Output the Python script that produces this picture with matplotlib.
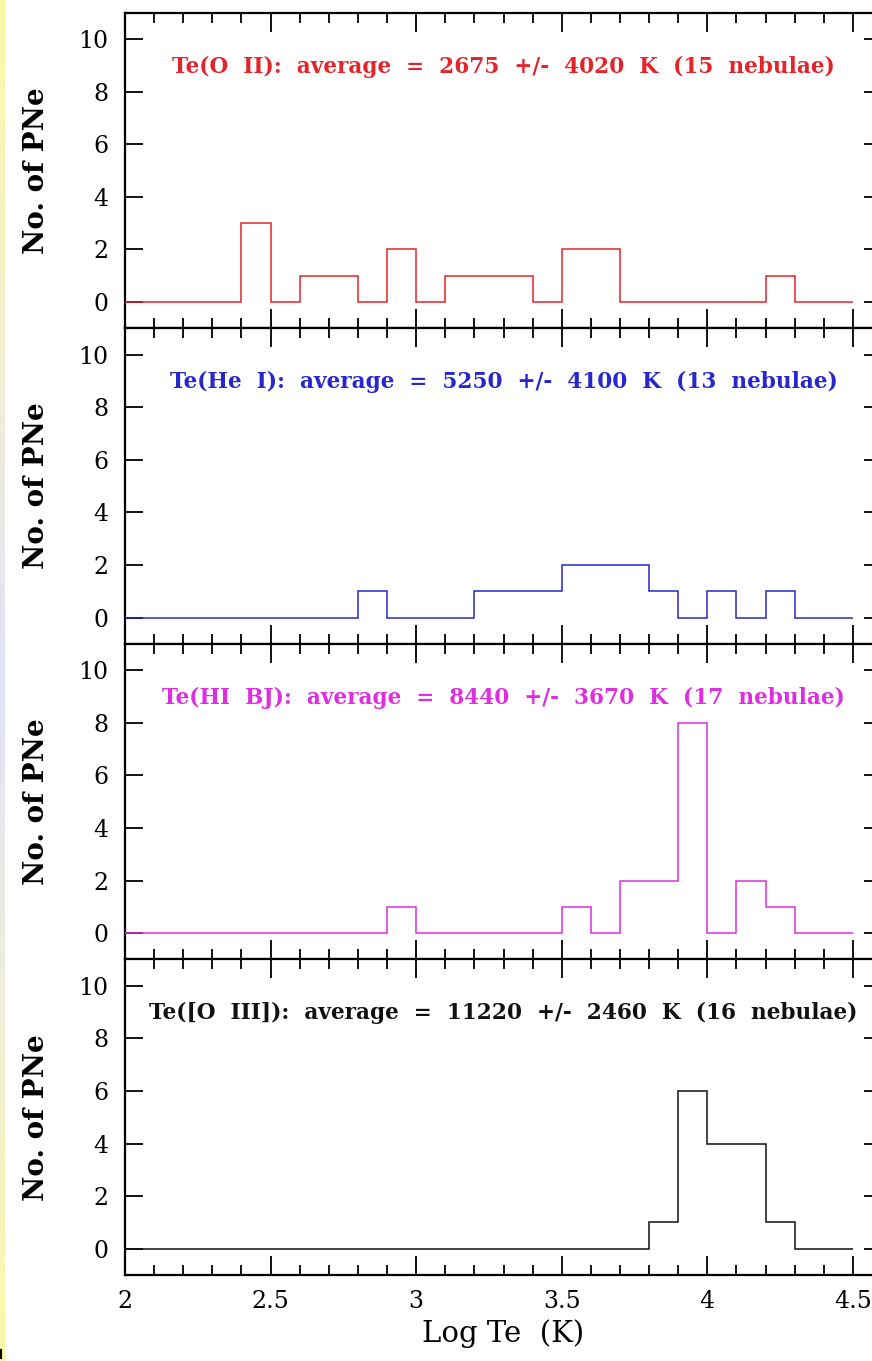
import numpy as np
import matplotlib
matplotlib.use("Agg")
import matplotlib.pyplot as plt
from matplotlib.colors import LinearSegmentedColormap
from matplotlib.lines import Line2D

# Bin edges in log Te (0.1 dex bins from 2.0 to 4.5)
bin_edges = [2.0, 2.1, 2.2, 2.3, 2.4, 2.5, 2.6, 2.7, 2.8, 2.9, 3.0,
             3.1, 3.2, 3.3, 3.4, 3.5, 3.6, 3.7, 3.8, 3.9, 4.0,
             4.1, 4.2, 4.3, 4.4, 4.5]

# Number of nebulae per bin for each temperature diagnostic
counts_oii = [0, 0, 0, 0, 3, 0, 1, 1, 0, 2, 0, 1, 1, 1, 0, 2, 2, 0, 0, 0, 0, 0, 1, 0, 0]
counts_hei = [0, 0, 0, 0, 0, 0, 0, 0, 1, 0, 0, 0, 1, 1, 1, 2, 2, 2, 1, 0, 1, 0, 1, 0, 0]
counts_hibj = [0, 0, 0, 0, 0, 0, 0, 0, 0, 1, 0, 0, 0, 0, 0, 1, 0, 2, 2, 8, 0, 2, 1, 0, 0]
counts_oiii = [0, 0, 0, 0, 0, 0, 0, 0, 0, 0, 0, 0, 0, 0, 0, 0, 0, 0, 1, 6, 4, 4, 1, 0, 0]

panel_labels = [
    "Te(O II): average = 2675 +/- 4020 K (15 nebulae)",
    "Te(He I): average = 5250 +/- 4100 K (13 nebulae)",
    "Te(HI BJ): average = 8440 +/- 3670 K (17 nebulae)",
    "Te([O III]): average = 11220 +/- 2460 K (16 nebulae)",
]
panel_counts = [counts_oii, counts_hei, counts_hibj, counts_oiii]
panel_colors = ["#e3242b", "#2727cc", "#dd2ee0", "#111111"]

y_ticks = [0, 2, 4, 6, 8, 10]
x_ticks = [2, 2.5, 3, 3.5, 4, 4.5]
x_tick_labels = ["2", "2.5", "3", "3.5", "4", "4.5"]

plt.rcParams["font.family"] = ["DejaVu Serif"]


def spaced(text, n):
    """Widen word gaps to mimic the plotting package's roomy spacing."""
    return (" " * n).join(text.split(" "))


W, H = 872, 1361
fig = plt.figure(figsize=(W / 100, H / 100), dpi=100)
fig.patch.set_facecolor("white")

# Thin coloured strip along the left edge
strip = fig.add_axes([0, 0, 4 / W, 1])
strip_cmap = LinearSegmentedColormap.from_list(
    "strip", ["#fbf9a4", "#f2f0d0", "#e2e2fb", "#efefd8", "#fbf9a4"])
strip.imshow(np.linspace(0, 1, 200).reshape(-1, 1), aspect="auto",
             cmap=strip_cmap, extent=[0, 1, 0, 1])
strip.set_axis_off()
fig.add_artist(Line2D([1 / W, 1 / W], [3 / H, 11 / H], color="black",
                      linewidth=1.5, transform=fig.transFigure))

left_px, top_px, bottom_px = 125, 12.7, 1275
right_px = 882
panel_h = (bottom_px - top_px) / 4

axes = []
for i in range(4):
    y0 = H - (top_px + (i + 1) * panel_h)
    ax = fig.add_axes([left_px / W, y0 / H, (right_px - left_px) / W, panel_h / H])
    axes.append(ax)

for i, ax in enumerate(axes):
    ax.stairs(panel_counts[i], bin_edges, baseline=None,
              color=panel_colors[i], linewidth=1.1, zorder=3)
    ax.set_xlim(2, 4.6)
    ax.set_ylim(-1, 11)
    ax.set_yticks(y_ticks)
    ax.set_yticklabels([str(t) for t in y_ticks])
    ax.set_xticks(x_ticks)
    ax.set_xticks(np.arange(2.0, 4.61, 0.1), minor=True)
    ax.tick_params(axis="x", which="major", direction="in", top=True, bottom=True,
                   length=13.5, width=1.3, labelsize=17, pad=11)
    ax.tick_params(axis="x", which="minor", direction="in", top=True, bottom=True,
                   length=7.5, width=1.3)
    ax.tick_params(axis="y", which="major", direction="in", left=True, right=True,
                   length=13, width=1.3, labelsize=17, pad=12)
    for sp in ax.spines.values():
        sp.set_linewidth(1.6)
    if i < 3:
        ax.tick_params(axis="x", labelbottom=False)
    else:
        ax.set_xticklabels(x_tick_labels)
        ax.set_xlabel("Log Te  (K)", fontsize=21, labelpad=4)
    ax.set_ylabel("No. of PNe", fontsize=20, fontweight="bold")
    ax.yaxis.set_label_coords(-0.099, 0.5)
    ax.text(0.5, 8.95, spaced(panel_labels[i], 2), transform=ax.get_yaxis_transform(),
            ha="center", va="center", fontsize=15.6, fontweight="bold",
            color=panel_colors[i])

fig.savefig("out.png", dpi=100)
